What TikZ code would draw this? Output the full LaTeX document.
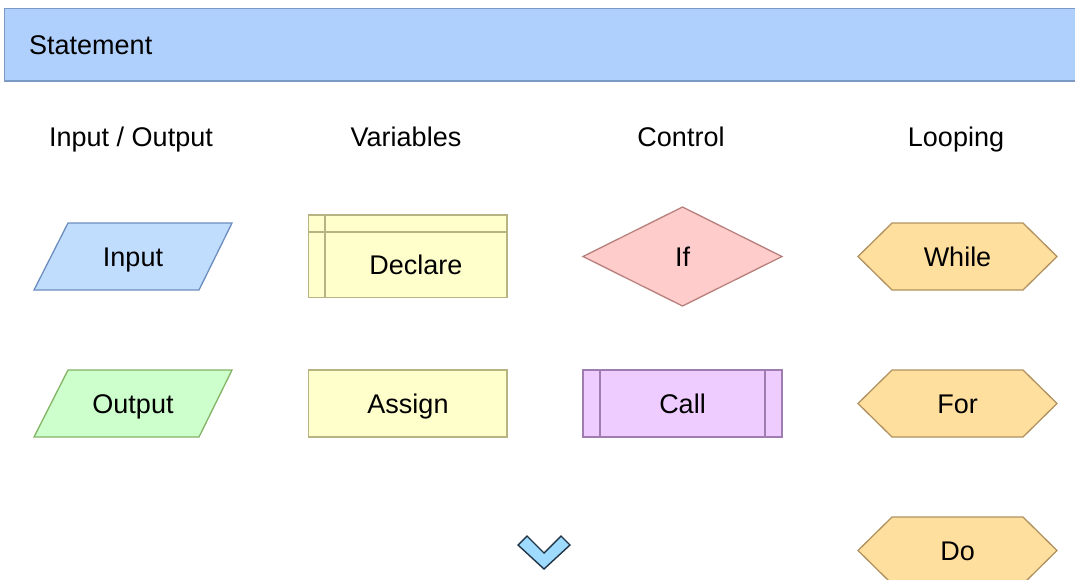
\documentclass[tikz,border=0pt]{standalone}
\usepackage{fontspec}
\setmainfont{Liberation Sans}
\begin{document}
\begin{tikzpicture}[x=1pt,y=-1pt,
  lbl/.style={inner sep=0pt,text height=19.3pt,text depth=0pt,
    font=\fontsize{27}{32}\selectfont},
  shp/.style={line width=1.3pt,line join=miter},
  iofill/.style={shp,fill=inFill,draw=inLine},
  outfill/.style={shp,fill=outFill,draw=outLine},
  varfill/.style={shp,fill=varFill,draw=varLine},
  ctlfill/.style={shp,fill=ifFill,draw=ifLine},
  callfill/.style={shp,fill=callFill,draw=callLine},
  loopfill/.style={shp,fill=loopFill,draw=loopLine}]
\definecolor{hdFill}{HTML}{AFCFFC}
\definecolor{hdLine}{HTML}{7C9AC4}
\definecolor{inFill}{HTML}{C0DDFE}
\definecolor{inLine}{HTML}{6C8EBF}
\definecolor{outFill}{HTML}{CCFFCC}
\definecolor{outLine}{HTML}{82B366}
\definecolor{varFill}{HTML}{FFFFCC}
\definecolor{varLine}{HTML}{B8B383}
\definecolor{ifFill}{HTML}{FFCCCC}
\definecolor{ifLine}{HTML}{B8807C}
\definecolor{callFill}{HTML}{EFCCFF}
\definecolor{callLine}{HTML}{A07DB0}
\definecolor{loopFill}{HTML}{FFDF9E}
\definecolor{loopLine}{HTML}{B09260}
\definecolor{chevFill}{HTML}{9EDBFF}
\definecolor{chevLine}{HTML}{1F3547}

\useasboundingbox[fill=white] (0,0) rectangle (1075,579);

% header bar
\draw[shp,fill=hdFill,draw=hdLine] (4.5,8.5) rectangle (1090,81);
\node[lbl,anchor=west] (stmt) at (29,45) {Statement};

% column titles
\node[lbl] (tio)   at (131,137) {Input / Output};
\node[lbl] (tvar)  at (406,137) {Variables};
\node[lbl] (tctl)  at (681,137) {Control};
\node[lbl] (tloop) at (956,137) {Looping};

% input / output parallelograms
\draw[iofill] (68,223) -- (232,223) -- (199,290) -- (34,290) -- cycle;
\node[lbl] (input) at (133,256.5) {Input};
\draw[outfill] (68,370) -- (232,370) -- (199,437) -- (34,437) -- cycle;
\node[lbl] (output) at (133,403.5) {Output};

% variables: internal storage and process box
\draw[varfill] (308.5,215) rectangle (507,297.5);
\draw[varfill] (325,215) -- (325,297.5);
\draw[varfill] (308.5,232) -- (507,232);
\node[lbl] (declare) at (416,265) {Declare};
\draw[varfill] (308.5,370) rectangle (507,437);
\node[lbl] (assign) at (408,403.5) {Assign};

% control: decision and predefined process
\draw[ctlfill] (682.5,207) -- (782,256.5) -- (682.5,306) -- (583,256.5) -- cycle;
\node[lbl] (if) at (682.5,256.5) {If};
\draw[callfill] (583,370) rectangle (782,437);
\draw[callfill] (600,370) -- (600,437);
\draw[callfill] (765,370) -- (765,437);
\node[lbl] (call) at (682.5,403.5) {Call};

% looping hexagons
\draw[loopfill] (858,256.5) -- (892,223) -- (1023,223) -- (1057,256.5) -- (1023,290) -- (892,290) -- cycle;
\node[lbl] (while) at (957.5,256.5) {While};
\draw[loopfill] (858,403.5) -- (892,370) -- (1023,370) -- (1057,403.5) -- (1023,437) -- (892,437) -- cycle;
\node[lbl] (for) at (957.5,403.5) {For};
\draw[loopfill] (858,550.5) -- (892,517) -- (1023,517) -- (1057,550.5) -- (1023,584) -- (892,584) -- cycle;
\node[lbl] (do) at (957.5,550.5) {Do};

% scroll-down chevron
\draw[line width=1.4pt,line join=miter,fill=chevFill,draw=chevLine]
  (518,545) -- (527,536) -- (544,553) -- (561,536) -- (570,545) -- (544,569) -- cycle;
\end{tikzpicture}
\end{document}
